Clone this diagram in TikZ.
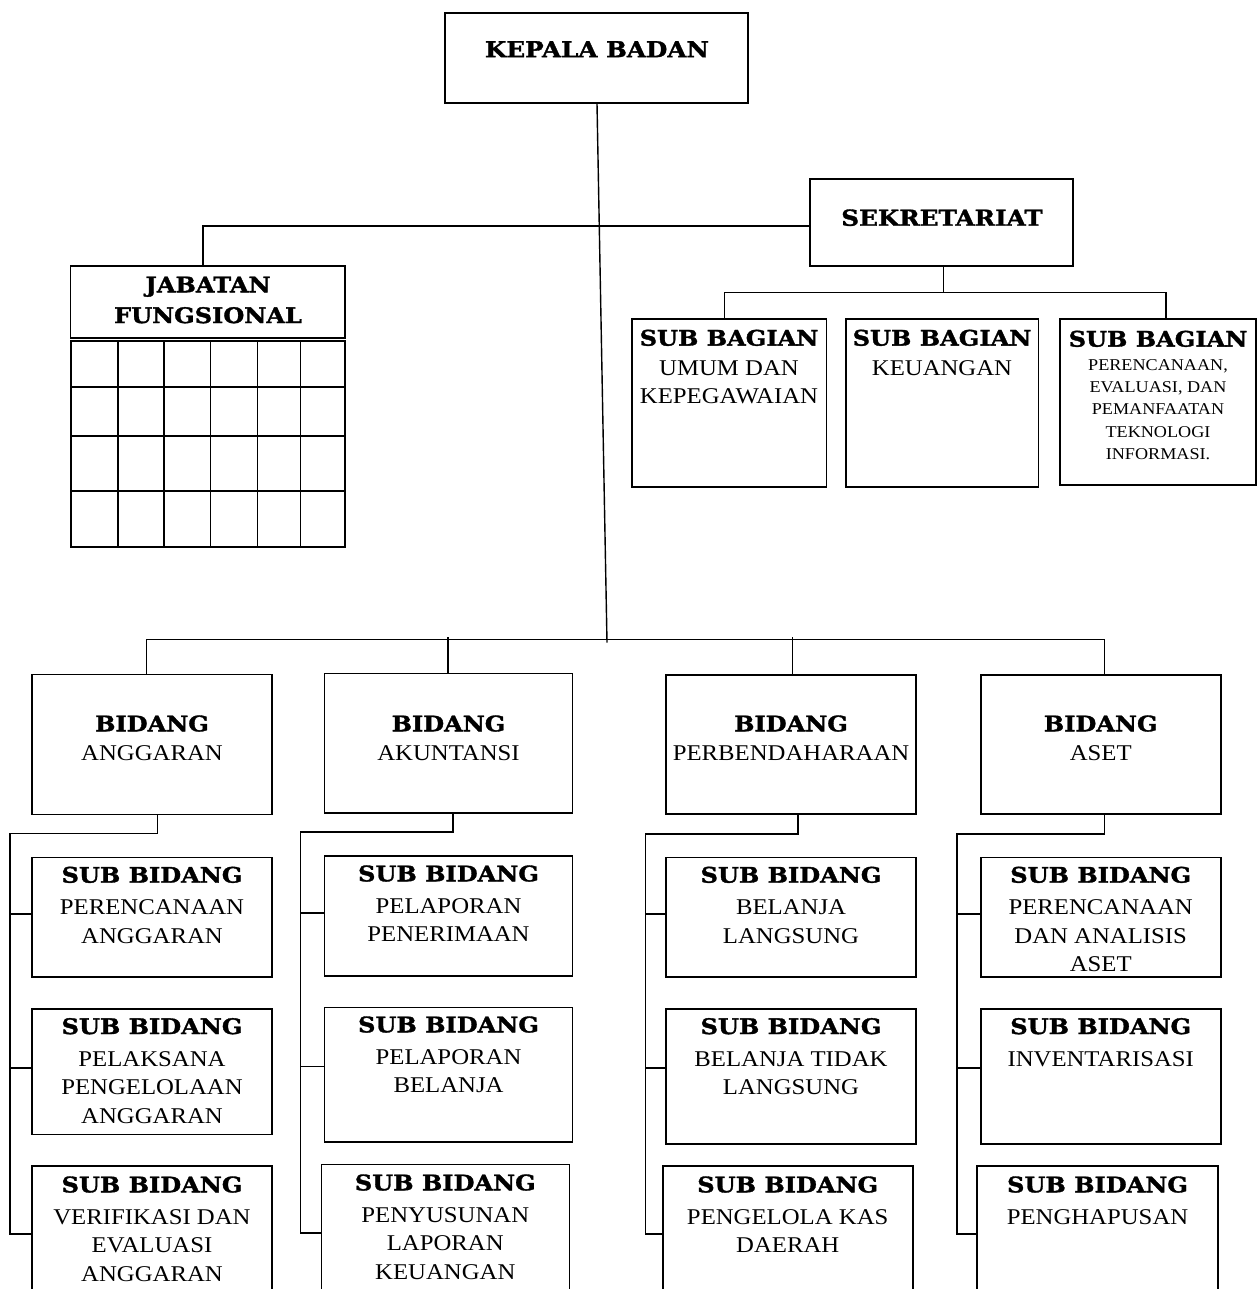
\documentclass[tikz,border=0pt]{standalone}
\usepackage{fontspec}
\setmainfont{Liberation Serif}
\newfontfamily\regfam{Liberation Serif}[FakeStretch=1.1]
\newfontfamily\boldfam{DejaVu Serif}[FakeStretch=1.12,FakeBold=1.5]
\newcommand\hd[1]{{\boldfam\bfseries\fontsize{21.5}{24}\selectfont #1}}
\newcommand\hdbig[1]{{\boldfam\bfseries\fontsize{22}{24}\selectfont #1}}
\tikzset{
  box/.style={draw, line width=1.6pt, inner sep=0pt},
  conn/.style={line width=1.6pt},
  lbl/.style={anchor=north, align=center, inner sep=0pt, font=\regfam\fontsize{22.5}{28.5}\selectfont},
  slbl/.style={anchor=north, align=center, inner sep=0pt, font=\regfam\fontsize{16.5}{22.3}\selectfont},
}
\newcommand\orgbox[5]{\node[box, minimum width={(#4-#2)*1pt}, minimum height={(#5-#3)*1pt}] (#1) at ({(#2+#4)/2},{(#3+#5)/2}) {};}
\begin{document}
\begin{tikzpicture}[x=1pt,y=-1pt]
\useasboundingbox (0,0) rectangle (1258,1289);
\clip (0,0) rectangle (1258,1289);

% ---- top level
\orgbox{kb}{445}{13}{748}{103}
\node[lbl] (kbt) at (597,41) {\hdbig{KEPALA BADAN}};

\orgbox{sek}{810}{179}{1073}{266}
\node[lbl] (sekt) at (942,209.2) {\hdbig{SEKRETARIAT}};

\orgbox{jf}{70.6}{266}{345}{338}
\node[lbl] (jft) at (208,276.5) {\hd{JABATAN}\\[2.2pt]\hd{FUNGSIONAL}};

% grid under jabatan fungsional
\draw[conn] (71,340.7) rectangle (345,546.7);
\foreach \gx in {118,164,210.6,257.5,300.6} \draw[conn] (\gx,340.7) -- (\gx,546.7);
\foreach \gy in {387,436,491} \draw[conn] (71,\gy) -- (345,\gy);

% sub bagian
\orgbox{sb1}{632}{319}{826.6}{486.7}
\orgbox{sb2}{846}{319}{1038.5}{486.7}
\orgbox{sb3}{1060}{319}{1256}{485}
\node[lbl] (sb1t) at (729,329.5) {\hd{SUB BAGIAN}\\[1.1pt] UMUM DAN\\ KEPEGAWAIAN};
\node[lbl] (sb2t) at (942,329.5) {\hd{SUB BAGIAN}\\[1.1pt] KEUANGAN};
\node[slbl] (sb3t) at (1158,330.5) {\hd{SUB BAGIAN}\\[1.35pt] PERENCANAAN,\\ EVALUASI, DAN\\ PEMANFAATAN\\ TEKNOLOGI\\ INFORMASI.};

% bidang
\orgbox{bA}{31.7}{674.3}{272}{814.3}
\orgbox{bB}{324.6}{673.3}{572.5}{813}
\orgbox{bC}{666}{675}{916}{814}
\orgbox{bD}{980.8}{675}{1220.7}{814}
\node[lbl] (bAt) at (152,715.2) {\hd{BIDANG}\\[0.85pt] ANGGARAN};
\node[lbl] (bBt) at (448.5,715.2) {\hd{BIDANG}\\[0.85pt] AKUNTANSI};
\node[lbl] (bCt) at (791,715.2) {\hd{BIDANG}\\[0.85pt] PERBENDAHARAAN};
\node[lbl] (bDt) at (1100.7,715.2) {\hd{BIDANG}\\[0.85pt] ASET};

% sub bidang column 1
\orgbox{a1}{31.7}{857.3}{272}{977}
\orgbox{a2}{31.7}{1008.7}{272}{1134.3}
\orgbox{a3}{31.7}{1166}{272}{1310}
\node[lbl] (a1t) at (152,866.5) {\hd{SUB BIDANG}\\[3.5pt] PERENCANAAN\\ ANGGARAN};
\node[lbl] (a2t) at (152,1017.9) {\hd{SUB BIDANG}\\[3.5pt] PELAKSANA\\ PENGELOLAAN\\ ANGGARAN};
\node[lbl] (a3t) at (152,1176.2) {\hd{SUB BIDANG}\\[3.5pt] VERIFIKASI DAN\\ EVALUASI\\ ANGGARAN};

% sub bidang column 2
\orgbox{b1}{324.6}{855.7}{572.5}{975.7}
\orgbox{b2}{324.6}{1007.3}{572.5}{1142}
\orgbox{b3}{321.4}{1164.3}{569.3}{1310}
\node[lbl] (b1t) at (448.5,865.2) {\hd{SUB BIDANG}\\[3.5pt] PELAPORAN\\ PENERIMAAN};
\node[lbl] (b2t) at (448.5,1016.2) {\hd{SUB BIDANG}\\[3.5pt] PELAPORAN\\ BELANJA};
\node[lbl] (b3t) at (445.3,1174.2) {\hd{SUB BIDANG}\\[3.5pt] PENYUSUNAN\\ LAPORAN\\ KEUANGAN};

% sub bidang column 3
\orgbox{c1}{666}{857.3}{916}{977}
\orgbox{c2}{666}{1008.7}{916}{1143.7}
\orgbox{c3}{662.8}{1166}{912.7}{1310}
\node[lbl] (c1t) at (791,866.5) {\hd{SUB BIDANG}\\[3.5pt] BELANJA\\ LANGSUNG};
\node[lbl] (c2t) at (791,1017.9) {\hd{SUB BIDANG}\\[3.5pt] BELANJA TIDAK\\ LANGSUNG};
\node[lbl] (c3t) at (787.7,1176.2) {\hd{SUB BIDANG}\\[3.5pt] PENGELOLA KAS\\ DAERAH};

% sub bidang column 4
\orgbox{d1}{980.8}{857.3}{1220.7}{977}
\orgbox{d2}{980.8}{1008.7}{1220.7}{1143.7}
\orgbox{d3}{977.2}{1166}{1217.9}{1310}
\node[lbl] (d1t) at (1100.7,866.5) {\hd{SUB BIDANG}\\[3.5pt] PERENCANAAN\\ DAN ANALISIS\\ ASET};
\node[lbl] (d2t) at (1100.7,1017.9) {\hd{SUB BIDANG}\\[3.5pt] INVENTARISASI};
\node[lbl] (d3t) at (1097.5,1176.2) {\hd{SUB BIDANG}\\[3.5pt] PENGHAPUSAN};

% ---- connectors
\coordinate (busend) at (607,642.7);
\draw[line width=1.4pt] (597,0 |- kb.south) -- (busend);
\draw[conn] (203,0 |- jf.north) -- (203,226) -- (sek.west |- 0,226);
\draw[conn] (943.5,0 |- sek.south) -- (943.5,292.3);
\draw[conn] (724.6,0 |- sb1.north) -- (724.6,292.3) -- (1166,292.3) -- (1166,0 |- sb3.north);

\draw[conn] (146.6,0 |- bA.north) -- (146.6,639.3) -- (1104.6,639.3) -- (1104.6,0 |- bD.north);
\draw[conn] (448,637) -- (448,0 |- bB.north);
\draw[conn] (792.6,637) -- (792.6,0 |- bC.north);

% column spines
\draw[conn] (157.5,0 |- bA.south) -- (157.5,833.3) -- (10,833.3) -- (10,1234) -- (a3.west |- 0,1234);
\draw[conn] (10,914) -- (a1.west |- 0,914);
\draw[conn] (10,1067.7) -- (a2.west |- 0,1067.7);

\draw[conn] (452.8,0 |- bB.south) -- (452.8,832) -- (300.5,832) -- (300.5,1232.7) -- (b3.west |- 0,1232.7);
\draw[conn] (300.5,912.7) -- (b1.west |- 0,912.7);
\draw[conn] (300.5,1066.3) -- (b2.west |- 0,1066.3);

\draw[conn] (798,0 |- bC.south) -- (798,834) -- (645.5,834) -- (645.5,1234) -- (c3.west |- 0,1234);
\draw[conn] (645.5,914) -- (c1.west |- 0,914);
\draw[conn] (645.5,1067.7) -- (c2.west |- 0,1067.7);

\draw[conn] (1104.6,0 |- bD.south) -- (1104.6,834) -- (957.2,834) -- (957.2,1234) -- (d3.west |- 0,1234);
\draw[conn] (957.2,914) -- (d1.west |- 0,914);
\draw[conn] (957.2,1067.7) -- (d2.west |- 0,1067.7);
\end{tikzpicture}
\end{document}
